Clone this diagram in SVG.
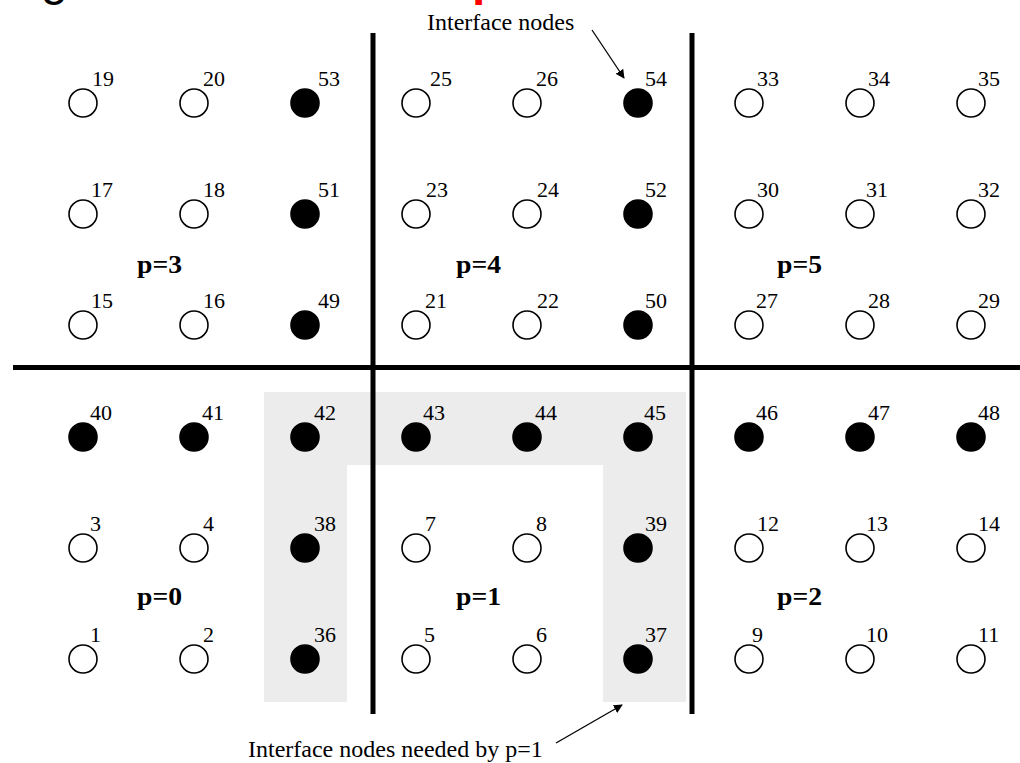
<svg xmlns="http://www.w3.org/2000/svg" width="1020" height="763" viewBox="0 0 1020 763">
  <defs>
    <style>
      .open { fill: #ffffff; stroke: #000000; stroke-width: 1.6; }
      .fill { fill: #000000; stroke: #000000; stroke-width: 1.6; }
      .num { font-family: "Liberation Serif", "Times New Roman", serif; font-size: 22px; fill: #000000; }
      .part { font-family: "Liberation Serif", "Times New Roman", serif; font-size: 26px; font-weight: bold; fill: #000000; }
      .note { font-family: "Liberation Serif", "Times New Roman", serif; font-size: 24px; fill: #000000; }
      .wall { stroke: #000000; stroke-width: 5; fill: none; }
      .pointer { stroke: #000000; stroke-width: 1.3; fill: none; marker-end: url(#head); }
    </style>
    <marker id="head" viewBox="0 0 10 10" refX="9" refY="5" markerWidth="9" markerHeight="9" markerUnits="userSpaceOnUse" orient="auto">
      <path d="M0,0 L10,5 L0,10 Z" fill="#000000"/>
    </marker>
  </defs>

  <rect width="1020" height="763" fill="#ffffff"/>

  <!-- title fragments clipped at the top edge -->
  <text x="41" y="-5" font-family="'Liberation Sans', Arial, sans-serif" font-size="48" fill="#000000">g</text>
  <text x="472" y="-5" font-family="'Liberation Sans', Arial, sans-serif" font-size="48" font-weight="bold" fill="#ff0000">p</text>

  <!-- halo of interface nodes required by partition p=1 -->
  <path id="halo" d="M264,392 H686 V702 H603 V465 H347 V702 H264 Z" fill="#ececec"/>

  <!-- partition boundaries -->
  <g id="boundaries">
    <line class="wall" x1="373" y1="33" x2="373" y2="714"/>
    <line class="wall" x1="692" y1="33" x2="692" y2="714"/>
    <line class="wall" x1="13" y1="367.5" x2="1020" y2="367.5"/>
  </g>

  <!-- row y=103 -->
  <g id="n19"><circle class="open" cx="83" cy="103" r="14"/><text class="num" x="92" y="86">19</text></g>
  <g id="n20"><circle class="open" cx="194" cy="103" r="14"/><text class="num" x="203" y="86">20</text></g>
  <g id="n53"><circle class="fill" cx="305" cy="103" r="14"/><text class="num" x="318" y="86">53</text></g>
  <g id="n25"><circle class="open" cx="416" cy="103" r="14"/><text class="num" x="430" y="86">25</text></g>
  <g id="n26"><circle class="open" cx="527" cy="103" r="14"/><text class="num" x="536" y="86">26</text></g>
  <g id="n54"><circle class="fill" cx="638" cy="103" r="14"/><text class="num" x="645" y="86">54</text></g>
  <g id="n33"><circle class="open" cx="749" cy="103" r="14"/><text class="num" x="757" y="86">33</text></g>
  <g id="n34"><circle class="open" cx="860" cy="103" r="14"/><text class="num" x="868" y="86">34</text></g>
  <g id="n35"><circle class="open" cx="971" cy="103" r="14"/><text class="num" x="978" y="86">35</text></g>

  <!-- row y=214 -->
  <g id="n17"><circle class="open" cx="83" cy="214" r="14"/><text class="num" x="91" y="197">17</text></g>
  <g id="n18"><circle class="open" cx="194" cy="214" r="14"/><text class="num" x="203" y="197">18</text></g>
  <g id="n51"><circle class="fill" cx="305" cy="214" r="14"/><text class="num" x="318" y="197">51</text></g>
  <g id="n23"><circle class="open" cx="416" cy="214" r="14"/><text class="num" x="426" y="197">23</text></g>
  <g id="n24"><circle class="open" cx="527" cy="214" r="14"/><text class="num" x="537" y="197">24</text></g>
  <g id="n52"><circle class="fill" cx="638" cy="214" r="14"/><text class="num" x="645" y="197">52</text></g>
  <g id="n30"><circle class="open" cx="749" cy="214" r="14"/><text class="num" x="757" y="197">30</text></g>
  <g id="n31"><circle class="open" cx="860" cy="214" r="14"/><text class="num" x="866" y="197">31</text></g>
  <g id="n32"><circle class="open" cx="971" cy="214" r="14"/><text class="num" x="978" y="197">32</text></g>

  <!-- row y=325 -->
  <g id="n15"><circle class="open" cx="83" cy="325" r="14"/><text class="num" x="91" y="308">15</text></g>
  <g id="n16"><circle class="open" cx="194" cy="325" r="14"/><text class="num" x="203" y="308">16</text></g>
  <g id="n49"><circle class="fill" cx="305" cy="325" r="14"/><text class="num" x="318" y="308">49</text></g>
  <g id="n21"><circle class="open" cx="416" cy="325" r="14"/><text class="num" x="425" y="308">21</text></g>
  <g id="n22"><circle class="open" cx="527" cy="325" r="14"/><text class="num" x="537" y="308">22</text></g>
  <g id="n50"><circle class="fill" cx="638" cy="325" r="14"/><text class="num" x="645" y="308">50</text></g>
  <g id="n27"><circle class="open" cx="749" cy="325" r="14"/><text class="num" x="756" y="308">27</text></g>
  <g id="n28"><circle class="open" cx="860" cy="325" r="14"/><text class="num" x="868" y="308">28</text></g>
  <g id="n29"><circle class="open" cx="971" cy="325" r="14"/><text class="num" x="978" y="308">29</text></g>

  <!-- row y=437 -->
  <g id="n40"><circle class="fill" cx="83" cy="437" r="14"/><text class="num" x="90" y="420">40</text></g>
  <g id="n41"><circle class="fill" cx="194" cy="437" r="14"/><text class="num" x="202" y="420">41</text></g>
  <g id="n42"><circle class="fill" cx="305" cy="437" r="14"/><text class="num" x="314" y="420">42</text></g>
  <g id="n43"><circle class="fill" cx="416" cy="437" r="14"/><text class="num" x="423" y="420">43</text></g>
  <g id="n44"><circle class="fill" cx="527" cy="437" r="14"/><text class="num" x="535" y="420">44</text></g>
  <g id="n45"><circle class="fill" cx="638" cy="437" r="14"/><text class="num" x="644" y="420">45</text></g>
  <g id="n46"><circle class="fill" cx="749" cy="437" r="14"/><text class="num" x="756" y="420">46</text></g>
  <g id="n47"><circle class="fill" cx="860" cy="437" r="14"/><text class="num" x="868" y="420">47</text></g>
  <g id="n48"><circle class="fill" cx="971" cy="437" r="14"/><text class="num" x="978" y="420">48</text></g>

  <!-- row y=548 -->
  <g id="n3"><circle class="open" cx="83" cy="548" r="14"/><text class="num" x="90" y="531">3</text></g>
  <g id="n4"><circle class="open" cx="194" cy="548" r="14"/><text class="num" x="203" y="531">4</text></g>
  <g id="n38"><circle class="fill" cx="305" cy="548" r="14"/><text class="num" x="314" y="531">38</text></g>
  <g id="n7"><circle class="open" cx="416" cy="548" r="14"/><text class="num" x="425" y="531">7</text></g>
  <g id="n8"><circle class="open" cx="527" cy="548" r="14"/><text class="num" x="536" y="531">8</text></g>
  <g id="n39"><circle class="fill" cx="638" cy="548" r="14"/><text class="num" x="645" y="531">39</text></g>
  <g id="n12"><circle class="open" cx="749" cy="548" r="14"/><text class="num" x="757" y="531">12</text></g>
  <g id="n13"><circle class="open" cx="860" cy="548" r="14"/><text class="num" x="866" y="531">13</text></g>
  <g id="n14"><circle class="open" cx="971" cy="548" r="14"/><text class="num" x="978" y="531">14</text></g>

  <!-- row y=659 -->
  <g id="n1"><circle class="open" cx="83" cy="659" r="14"/><text class="num" x="90" y="642">1</text></g>
  <g id="n2"><circle class="open" cx="194" cy="659" r="14"/><text class="num" x="203" y="642">2</text></g>
  <g id="n36"><circle class="fill" cx="305" cy="659" r="14"/><text class="num" x="314" y="642">36</text></g>
  <g id="n5"><circle class="open" cx="416" cy="659" r="14"/><text class="num" x="424" y="642">5</text></g>
  <g id="n6"><circle class="open" cx="527" cy="659" r="14"/><text class="num" x="536" y="642">6</text></g>
  <g id="n37"><circle class="fill" cx="638" cy="659" r="14"/><text class="num" x="645" y="642">37</text></g>
  <g id="n9"><circle class="open" cx="749" cy="659" r="14"/><text class="num" x="752" y="642">9</text></g>
  <g id="n10"><circle class="open" cx="860" cy="659" r="14"/><text class="num" x="866" y="642">10</text></g>
  <g id="n11"><circle class="open" cx="971" cy="659" r="14"/><text class="num" x="978" y="642">11</text></g>

  <!-- partition labels -->
  <g id="partitions">
    <text class="part" x="137" y="273" textLength="45" lengthAdjust="spacingAndGlyphs">p=3</text>
    <text class="part" x="456" y="273" textLength="45" lengthAdjust="spacingAndGlyphs">p=4</text>
    <text class="part" x="777" y="273" textLength="45" lengthAdjust="spacingAndGlyphs">p=5</text>
    <text class="part" x="137" y="605" textLength="45" lengthAdjust="spacingAndGlyphs">p=0</text>
    <text class="part" x="456" y="605" textLength="45" lengthAdjust="spacingAndGlyphs">p=1</text>
    <text class="part" x="777" y="605" textLength="45" lengthAdjust="spacingAndGlyphs">p=2</text>
  </g>

  <!-- annotations -->
  <g id="annotation-top">
    <text class="note" x="427" y="30">Interface nodes</text>
  </g>
  <g id="annotation-bottom">
    <text class="note" x="248" y="757">Interface nodes needed by p=1</text>
  </g>

  <g id="connectors">
    <line class="pointer" x1="592" y1="30" x2="624" y2="78"/>
    <line class="pointer" x1="556" y1="743" x2="622" y2="705"/>
  </g>
</svg>
